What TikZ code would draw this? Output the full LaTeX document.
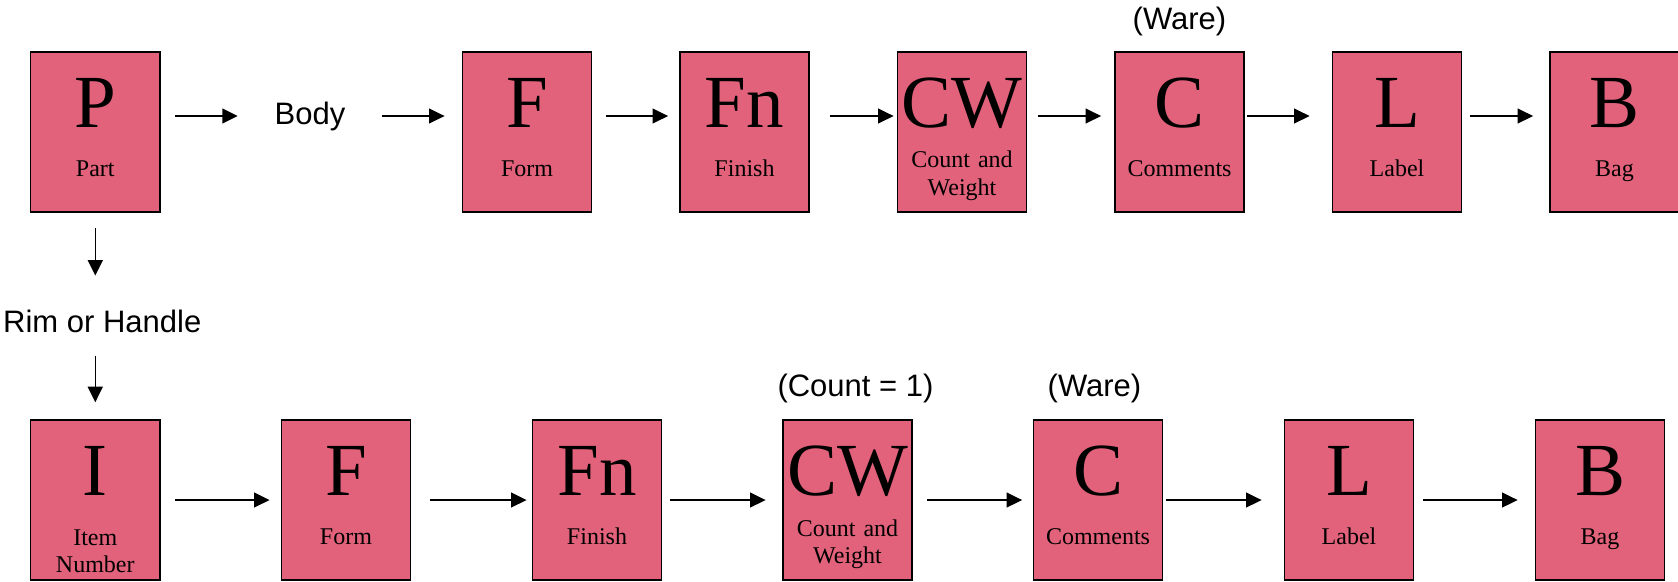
\documentclass[tikz,border=0pt]{standalone}
\usepackage{fontspec}
\setmainfont{Liberation Serif}
\newfontfamily\tagFont{Liberation Sans}
\usetikzlibrary{calc,arrows.meta}
\definecolor{cardPink}{RGB}{227,98,123}
\tikzset{
  stepCard/.style={draw=black,fill=cardPink,line width=1.6pt,minimum width=129.3pt,minimum height=160pt,inner sep=0pt},
  bigLetter/.style={inner sep=0pt,font={\fontsize{75}{75}\selectfont}},
  capText/.style={inner sep=0pt,align=center,text width=126pt,font={\fontsize{24}{27.5}\selectfont}},
  tagText/.style={inner sep=0pt,font={\tagFont\fontsize{31}{34}\selectfont}},
  flowArrow/.style={-{Triangle[length=15.5pt,width=15pt]},line width=1.5pt},
}
\newcommand{\StepCard}[6]{%
  \node[stepCard] (#1) at (#2,#3) {};
  \node[bigLetter,anchor=base] (#1Big) at ([yshift=4.4pt]#1.center) {#4};
  \node[capText,anchor=base] (#1Cap) at ([yshift=-#6pt]#1.center) {#5};}

\begin{document}
\begin{tikzpicture}[x=1pt,y=-1pt]
\useasboundingbox (0,0) rectangle (1678,581);
% body row
\StepCard{part}{95.3}{131.7}{P}{Part}{44.3}
\StepCard{bodyForm}{527}{131.7}{F}{Form}{44.3}
\StepCard{bodyFinish}{744.5}{131.7}{Fn}{Finish}{44.3}
\StepCard{bodyCount}{962}{131.7}{CW}{Count and\\Weight}{36}
\StepCard{bodyComments}{1179.5}{131.7}{C}{Comments}{44.3}
\StepCard{bodyLabel}{1397}{131.7}{L}{Label}{44.3}
\StepCard{bodyBag}{1614.5}{131.7}{B}{Bag}{44.3}
% rim or handle row
\StepCard{item}{95.3}{500}{I}{Item\\Number}{45}
\StepCard{rimForm}{346}{500}{F}{Form}{44.3}
\StepCard{rimFinish}{597}{500}{Fn}{Finish}{44.3}
\StepCard{rimCount}{847.5}{500}{CW}{Count and\\Weight}{36}
\StepCard{rimComments}{1098}{500}{C}{Comments}{44.3}
\StepCard{rimLabel}{1349}{500}{L}{Label}{44.3}
\StepCard{rimBag}{1600}{500}{B}{Bag}{44.3}

\node[tagText,inner xsep=25.7pt] (body) at (310,116) {Body};
\node[tagText,anchor=base west] (rim) at (3,332.7) {Rim or Handle};
\node[tagText,anchor=base] (bodyWare) at ([yshift=21.7pt]bodyComments.north) {(Ware)};
\node[tagText,anchor=base] (rimOne) at ([xshift=8pt,yshift=23pt]rimCount.north) {(Count = 1)};
\node[tagText,anchor=base] (rimWare) at ([xshift=-3.5pt,yshift=23pt]rimComments.north) {(Ware)};

\draw[flowArrow,shorten <=14pt,shorten >=11pt] ([yshift=15.7pt]part.east) -- (body.west);
\draw[flowArrow,shorten <=11pt,shorten >=17pt] (body.east) -- ([yshift=15.7pt]bodyForm.west);
\foreach \a/\b/\s/\e in {bodyForm/bodyFinish/14/11,bodyFinish/bodyCount/20/3,bodyCount/bodyComments/11/13,bodyComments/bodyLabel/2/22,bodyLabel/bodyBag/8/16}
  \draw[flowArrow,shorten <=\s pt,shorten >=\e pt] ([yshift=15.7pt]\a.east) -- ([yshift=15.7pt]\b.west);
\foreach \a/\b/\s/\e in {item/rimForm/14/11,rimForm/rimFinish/19/5,rimFinish/rimCount/8/16.5,rimCount/rimComments/14/10.5,rimComments/rimLabel/3/22,rimLabel/rimBag/9/17}
  \draw[flowArrow,shorten <=\s pt,shorten >=\e pt] (\a.east) -- (\b.west);

\draw[flowArrow,shorten <=15.5pt,shorten >=34.5pt] (part.south) -- (part.south |- rim.north);
\draw[flowArrow,shorten <=22.3pt,shorten >=17pt] (item.north |- rim.south) -- (item.north);
\end{tikzpicture}
\end{document}
